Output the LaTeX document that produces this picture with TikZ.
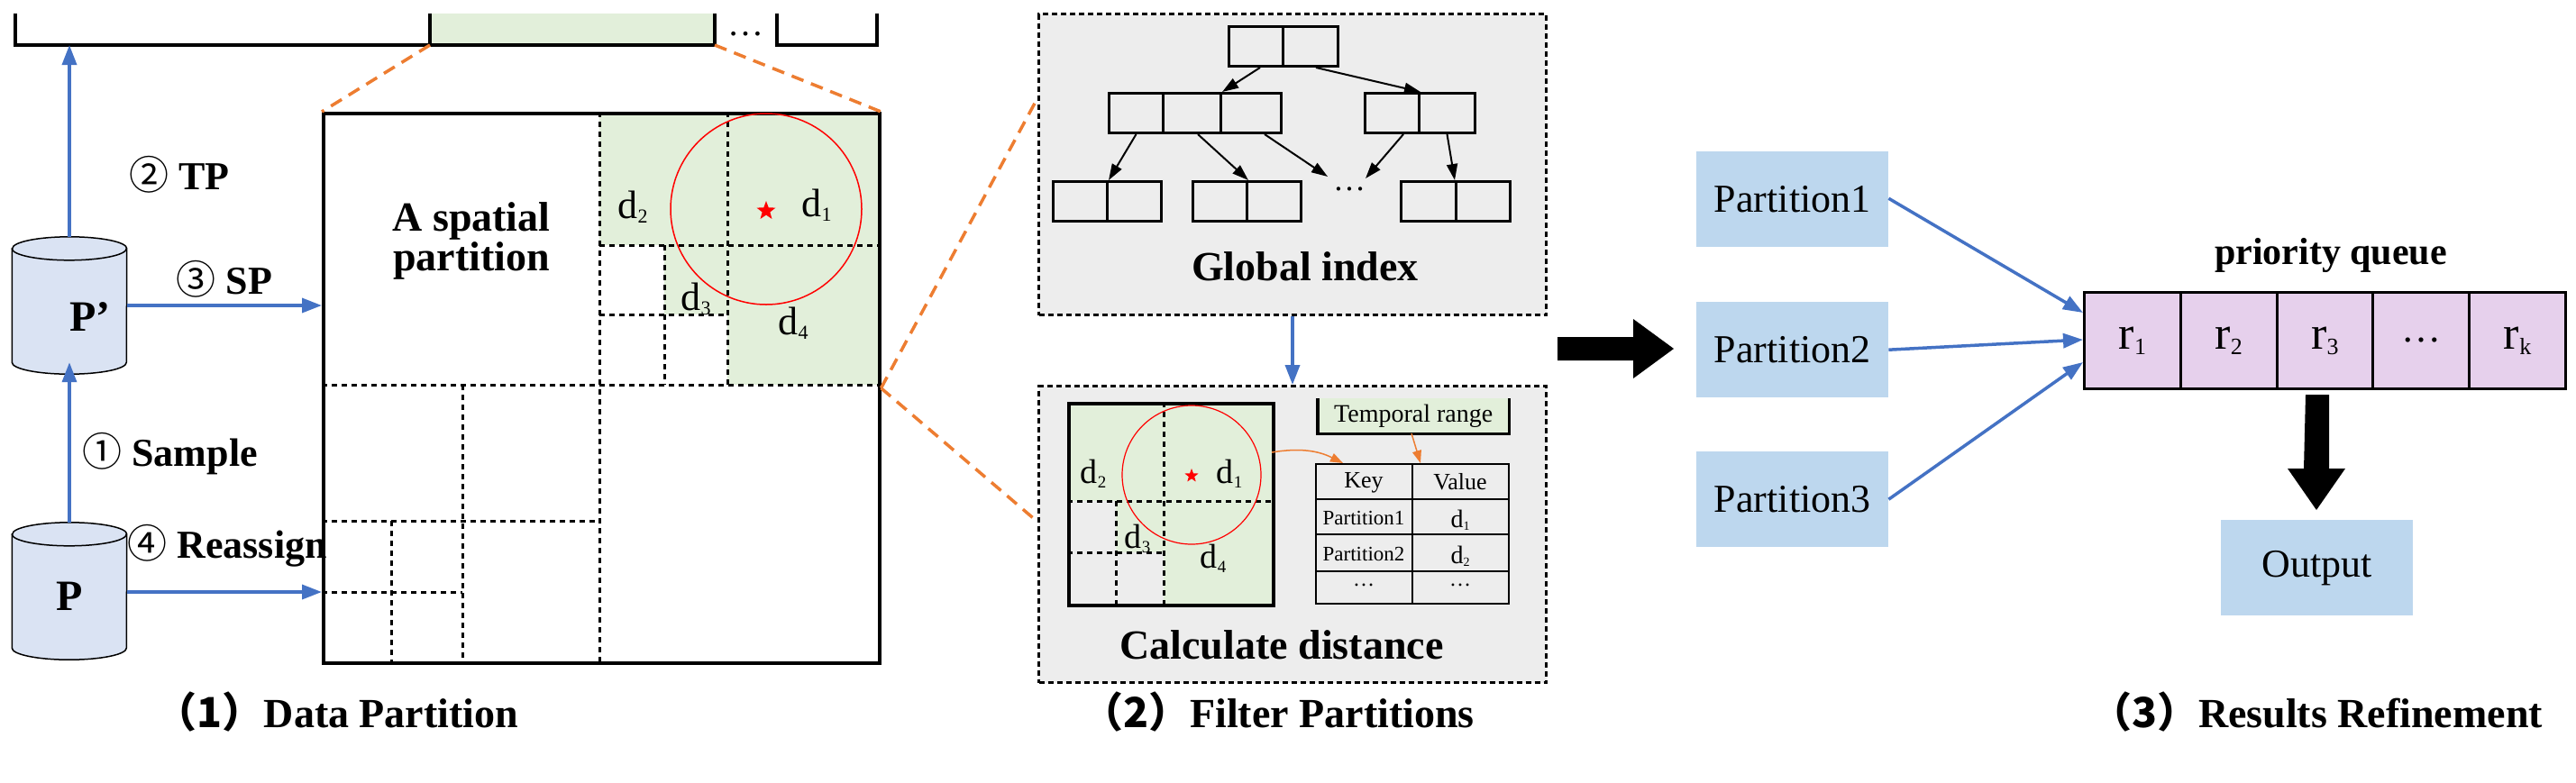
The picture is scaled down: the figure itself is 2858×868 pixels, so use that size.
\documentclass[tikz,border=0pt]{standalone}
\usepackage{fontspec}
\setmainfont{Liberation Serif}
\newfontfamily\cjk{Noto Sans CJK SC}
\usetikzlibrary{shapes.geometric,arrows.meta}
\definecolor{lg}{HTML}{E2EFDA}
\definecolor{bl}{HTML}{4472C4}
\definecolor{org}{HTML}{ED7D31}
\definecolor{pb}{HTML}{BDD7EE}
\definecolor{pq}{HTML}{E6D0EC}
\definecolor{gb}{HTML}{EDEDED}
\definecolor{cy}{HTML}{DAE3F3}
\newcommand{\fs}[1]{\fontsize{#1}{#1}\selectfont}
\newcommand{\sbx}[1]{\raisebox{-0.12em}{\fontsize{0.5em}{0.5em}\selectfont #1}}
\tikzset{
 solidbox/.style={draw,line width=3.5pt},
 dgrid/.style={draw,line width=3pt,dash pattern=on 6pt off 5pt},
 dbox/.style={draw,line width=3pt,dash pattern=on 6pt off 4pt,fill=gb},
 orangedash/.style={org,line width=3.5pt,dash pattern=on 14pt off 9pt},
 barrow/.style={bl,line width=3.5pt,-{Triangle[length=22pt,width=16pt]}},
 tarrow/.style={line width=2pt,-{Triangle[length=18pt,width=12pt]}},
 oarrow/.style={org,line width=1.5pt,-{Triangle[length=14pt,width=10pt]}},
 lbl/.style={font=\bfseries\fs{44}},
 cylbox/.style={minimum width=127pt,minimum height=126pt,inner sep=0pt},
 cylpaint/.style={draw,line width=1.5pt,fill=cy},
 cell/.style={draw,line width=3pt,minimum width=#1,minimum height=44pt,inner sep=0pt},
 pbox/.style={fill=pb,minimum width=213pt,minimum height=106pt,font=\fs{44}},
 qcell/.style={draw,line width=3pt,fill=pq,minimum width=106.8pt,minimum height=107pt,inner sep=0pt,font=\fs{52}},
 fat/.style={fill=black},
}
\begin{document}
\begin{tikzpicture}[x=1pt,y=-1pt]
\useasboundingbox (0,0) rectangle (2858,868);
% ---------- panel 1 ----------
\fill[lg] (477,15) rectangle (793,50);
\draw[line width=3.5pt] (17,15) -- (17,50) -- (793,50) (477,15) -- (477,50) (793,15) -- (793,50);
\draw[line width=3.5pt] (862,15) -- (862,50) -- (973,50) -- (973,15);
\node[font=\fs{40}] (tdots) at (827,38) {\dots};
\coordinate (tbar) at (77,50);
\coordinate (tl) at (477,50);
\coordinate (tr) at (793,50);
\fill[lg] (665,124) rectangle (974,272);
\fill[lg] (807,272) rectangle (974,427);
\fill[lg] (737,272) rectangle (807,349);
\draw[dgrid] (665,124) -- (665,734);
\draw[dgrid] (357,427) -- (974,427);
\draw[dgrid] (665,272) -- (974,272);
\draw[dgrid] (807,124) -- (807,427);
\draw[dgrid] (737,272) -- (737,427);
\draw[dgrid] (665,349) -- (807,349);
\draw[dgrid] (513,427) -- (513,734);
\draw[dgrid] (357,578) -- (665,578);
\draw[dgrid] (434,578) -- (434,734);
\draw[dgrid] (357,657) -- (513,657);
\node[solidbox,minimum width=617pt,minimum height=610pt,inner sep=0pt,anchor=north west] (big) at (357,124) {};
\draw[red,line width=1.5pt] (850,232) circle (106);
\node[red,star,star points=5,star point ratio=2.4,fill=red,inner sep=0pt,minimum size=22pt] (s1) at (850,234) {};
\node[font=\fs{44}] (bd2) at (702,230) {d\sbx{2}};
\node[font=\fs{44}] (bd1) at (906,228) {d\sbx{1}};
\node[font=\fs{44}] (bd3) at (772,332) {d\sbx{3}};
\node[font=\fs{44}] (bd4) at (880,359) {d\sbx{4}};
\node[lbl,align=center,font=\bfseries\fs{46}] (asp) at (523,267) {A spatial\\[-2pt]partition};
\draw[orangedash] (tl) -- (big.north west);
\draw[orangedash] (tr) -- (big.north east);
% cylinders
\node[cylbox] (pp) at (77,339) {};
\node[cylbox] (p) at (77,656) {};
\foreach \c in {pp,p}{
 \path[cylpaint] (\c.north west) -- (\c.south west) arc[start angle=180,end angle=360,x radius=63.5,y radius=-13] -- (\c.north east) arc[start angle=0,end angle=180,x radius=63.5,y radius=-13] -- cycle;
 \draw[line width=1.5pt] (\c.north west) arc[start angle=180,end angle=360,x radius=63.5,y radius=-13];
}
\node[lbl,font=\bfseries\fs{48}] at (100,352) {P’};
\node[lbl,font=\bfseries\fs{48}] at (77,662) {P};
\draw[barrow] (pp.north) ++(0,-13) -- (tbar);
\draw[barrow] (p.north) ++(0,-13) -- (pp.south);
\draw[barrow] (pp.east |- 0,339) -- (357,339);
\draw[barrow] (p.east |- 0,657) -- (357,657);
\node[lbl,anchor=west] (ltp) at (140,194) {{\cjk\mdseries ②} TP};
\node[lbl,anchor=west] (lsp) at (192,310) {{\cjk\mdseries ③} SP};
\node[lbl,anchor=west] (lsa) at (88,504) {{\cjk\mdseries ①} Sample};
\node[lbl,anchor=west] (lre) at (138,606) {{\cjk\mdseries ④} Reassign};
% ---------- panel 2 ----------
\node[dbox,anchor=north west,minimum width=563pt,minimum height=334pt] (gbox) at (1151,14) {};
\node[dbox,anchor=north west,minimum width=563pt,minimum height=329pt] (cbox) at (1151,427) {};
\draw[orangedash] (big.east) -- (1151,109);
\draw[orangedash] (big.east) -- (1151,579);
\node[cell=60pt,anchor=north west] (r1) at (1362,28) {};
\node[cell=61pt,anchor=north west] (r2) at (1422,28) {};
\node[cell=60pt,anchor=north west] (a1) at (1229,102) {};
\node[cell=64pt,anchor=north west] (a2) at (1289,102) {};
\node[cell=67pt,anchor=north west] (a3) at (1353,102) {};
\node[cell=60pt,anchor=north west] (b1) at (1513,102) {};
\node[cell=62pt,anchor=north west] (b2) at (1573,102) {};
\node[cell=60pt,anchor=north west] (l1) at (1167,200) {};
\node[cell=60pt,anchor=north west] (l2) at (1227,200) {};
\node[cell=60pt,anchor=north west] (m1) at (1322,200) {};
\node[cell=60pt,anchor=north west] (m2) at (1382,200) {};
\node[cell=61pt,anchor=north west] (n1) at (1553,200) {};
\node[cell=60pt,anchor=north west] (n2) at (1614,200) {};
\node[font=\fs{36}] (tdd) at (1497,210) {\dots};
\coordinate (e1) at (1473,196);
\coordinate (e2) at (1515,198);
\draw[tarrow] (r1.south east) ++(-27,0) -- (a2.north east);
\draw[tarrow] (r2.south west) ++(38,0) -- (b1.north east);
\draw[tarrow] (a1.south) -- (l1.north east);
\draw[tarrow] (a2.south east) ++(-27,0) -- (m1.north east);
\draw[tarrow] (a3.south) ++(15,0) -- (e1);
\draw[tarrow] (b1.south east) ++(-19,0) -- (e2);
\draw[tarrow] (b2.south) -- (n2.north west);
\node[lbl,font=\bfseries\fs{46}] (gi) at (1448,296) {Global index};
\draw[barrow] (gbox.south) -- (cbox.north);
\fill[lg] (1184,446) rectangle (1411,556);
\fill[lg] (1291,556) rectangle (1411,670);
\fill[lg] (1238,556) rectangle (1291,613);
\draw[dgrid] (1291,446) -- (1291,670);
\draw[dgrid] (1184,556) -- (1411,556);
\draw[dgrid] (1238,556) -- (1238,670);
\draw[dgrid] (1184,613) -- (1291,613);
\node[solidbox,anchor=north west,minimum width=227pt,minimum height=224pt,inner sep=0pt] (cg) at (1184,446) {};
\draw[red,line width=1.2pt] (1322,527) circle (77);
\node[red,star,star points=5,star point ratio=2.4,fill=red,inner sep=0pt,minimum size=16pt] (s2) at (1322,528) {};
\node[font=\fs{38}] (cd2) at (1213,526) {d\sbx{2}};
\node[font=\fs{38}] (cd1) at (1364,526) {d\sbx{1}};
\node[font=\fs{38}] (cd3) at (1262,598) {d\sbx{3}};
\node[font=\fs{38}] (cd4) at (1346,620) {d\sbx{4}};
\node[fill=lg,anchor=north west,minimum width=212pt,minimum height=39pt,inner sep=0pt,font=\fs{28}] (tr) at (1462,442) {Temporal range};
\draw[line width=3.5pt] (tr.north west) -- (tr.south west) -- (tr.south east) -- (tr.north east);
\draw[line width=2.5pt] (1460,515) rectangle (1674,670);
\draw[line width=2.5pt] (1567,515) -- (1567,670) (1460,554) -- (1674,554) (1460,593) -- (1674,593) (1460,634) -- (1674,634);
\node[font=\fs{26}] (tk) at (1513,536) {Key};
\node[font=\fs{26}] (tv) at (1620,535) {Value};
\node[font=\fs{23}] (tp1) at (1513,575) {Partition1};
\node[font=\fs{28}] (tv1) at (1620,577) {d\sbx{1}};
\node[font=\fs{23}] (tp2) at (1513,615) {Partition2};
\node[font=\fs{28}] (tv2) at (1620,617) {d\sbx{2}};
\node[font=\fs{24}] (tp3) at (1513,649) {\dots};
\node[font=\fs{24}] (tv3) at (1620,649) {\dots};
\coordinate (kt) at (1490,514);
\coordinate (vt) at (1576,514);
\draw[oarrow] (1411,502) to[bend left=18] (kt);
\draw[oarrow] (1566,481) -- (vt);
\node[lbl,font=\bfseries\fs{46}] (cdl) at (1422,716) {Calculate distance};
% ---------- panel 3 ----------
\fill[fat] (1728,374) -- (1812,374) -- (1812,354) -- (1857,387) -- (1812,420) -- (1812,400) -- (1728,400) -- cycle;
\node[pbox,anchor=north west] (pa1) at (1882,168) {Partition1};
\node[pbox,anchor=north west] (pa2) at (1882,335) {Partition2};
\node[pbox,anchor=north west] (pa3) at (1882,501) {Partition3};
\node[qcell,anchor=north west] (q1) at (2311,323) {r\sbx{1}};
\node[qcell,anchor=north west] (q2) at (2417.8,323) {r\sbx{2}};
\node[qcell,anchor=north west] (q3) at (2524.6,323) {r\sbx{3}};
\node[qcell,anchor=north west,font=\fs{44}] (q4) at (2631.4,323) {\dots};
\node[qcell,anchor=north west] (q5) at (2738.2,323) {r\sbx{k}};
\node[font=\bfseries\fs{42}] (pql) at (2586,283) {priority queue};
\coordinate (qa) at (2311,347);
\coordinate (qb) at (2311,377);
\coordinate (qc) at (2311,402);
\draw[barrow] (pa1.east) ++(0,-1) -- (qa);
\draw[barrow] (pa2.east) -- (qb);
\draw[barrow] (pa3.east) -- (qc);
\node[pbox,anchor=north west] (out) at (2464,577) {Output};
\fill[fat] (2558,438) -- (2584,438) -- (2584,520) -- (2602,520) -- (2570,566) -- (2538,520) -- (2556,520) -- cycle;
\node[lbl,font=\bfseries\fs{46}] (t1) at (374,790) {{\cjk（1）}Data Partition};
\node[lbl,font=\bfseries\fs{46}] (t2) at (1418,790) {{\cjk（2）}Filter Partitions};
\node[lbl,font=\bfseries\fs{46}] (t3) at (2570,790) {{\cjk（3）}Results Refinement};
\end{tikzpicture}
\end{document}
